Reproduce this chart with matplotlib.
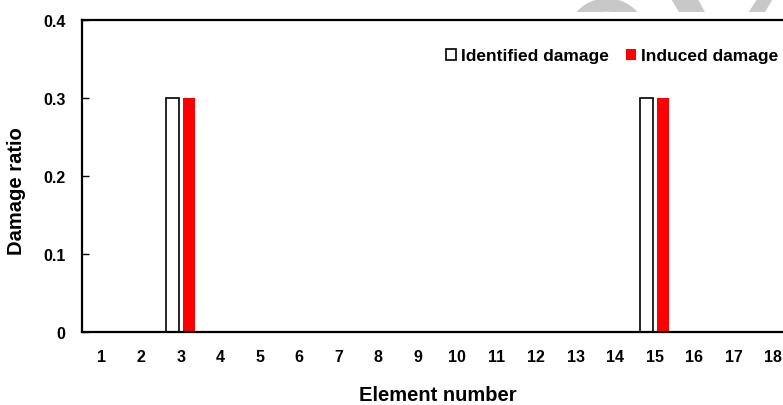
import numpy as np
import matplotlib.pyplot as plt
from matplotlib.patches import Polygon, Wedge
from matplotlib.transforms import Bbox, TransformedBbox

plt.rcParams['font.family'] = ['Liberation Sans', 'DejaVu Sans']
plt.rcParams['font.weight'] = 'bold'

# Elementos e razões de dano
elementos = list(range(1, 19))
dano_identificado = [0, 0, 0.3, 0, 0, 0, 0, 0, 0, 0, 0, 0, 0, 0, 0.3, 0, 0, 0]
dano_induzido = [0, 0, 0.3, 0, 0, 0, 0, 0, 0, 0, 0, 0, 0, 0, 0.3, 0, 0, 0]

fig = plt.figure(figsize=(7.83, 4.06), dpi=100)

# marca d'agua cinza no topo (so a faixa de cima aparece), em polegadas
H = 4.06
cinza = '#c8c8c8'
pol = fig.dpi_scale_trans
faixa = TransformedBbox(Bbox([[0, H - 0.13], [7.83, H]]), pol)
marcas = [
    Wedge((6.07, H - 0.40), 0.40, 25, 155, width=0.12),
    Polygon([(6.72, H), (6.97, H), (7.08, H - 0.2), (6.84, H - 0.2)], closed=True),
    Polygon([(7.58, H), (7.72, H), (7.60, H - 0.2), (7.45, H - 0.2)], closed=True),
]
for m in marcas:
    m.set_transform(pol)
    m.set_color(cinza)
    m.set_zorder(-5)
    m.set_clip_box(faixa)
    fig.patches.append(m)

ax = fig.add_axes([82 / 783, 1 - 333 / 406, 711 / 783, 312 / 406])
ax.set_facecolor('white')

x = np.arange(len(elementos))
larg = 0.32
ax.bar(x - 0.21, dano_identificado, larg, color='white', edgecolor='black', linewidth=1.2,
       label='Identified damage')
ax.bar(x + 0.21, dano_induzido, larg, color='#ff0000', edgecolor='none', label='Induced damage')

ax.set_xlim(-0.5, len(elementos) - 0.5)
ax.set_ylim(0, 0.4)
ax.set_xticks(x)
ax.set_xticklabels([str(e) for e in elementos])
ax.set_yticks([0, 0.1, 0.2, 0.3, 0.4])
ax.set_yticklabels(['0', '0.1', '0.2', '0.3', '0.4'])
ax.tick_params(axis='x', length=0, pad=12, labelsize=11.5)
ax.tick_params(axis='y', direction='in', length=5, width=1, pad=12, labelsize=11.5)

for s in ax.spines.values():
    s.set_linewidth(1.6)

ax.set_xlabel('Element number', fontsize=14.5, fontweight='bold', va='center')
ax.xaxis.set_label_coords(0.5, (333 - 396) / 312)
ax.set_ylabel('Damage ratio', fontsize=14.5, fontweight='bold', va='center')
ax.yaxis.set_label_coords((17 - 82) / 711, (333 - 191) / 312)

ax.legend(loc='center left', bbox_to_anchor=(446 / 783, 1 - 57 / 406), bbox_transform=fig.transFigure,
          ncol=2, frameon=False, fontsize=12.5, handlelength=0.6, handleheight=0.6,
          handletextpad=0.25, columnspacing=1.0, borderpad=0, borderaxespad=0)

fig.savefig('out.png', dpi=100)
